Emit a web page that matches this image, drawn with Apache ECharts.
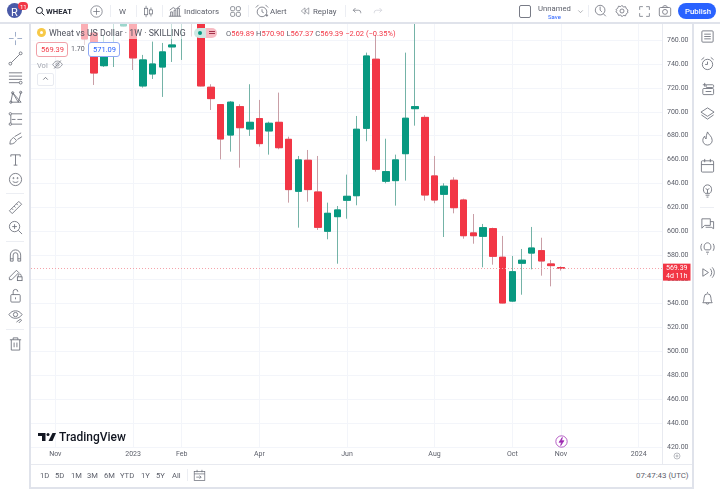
<!DOCTYPE html>
<html>
<head>
<meta charset="utf-8">
<script src="https://cdn.jsdelivr.net/npm/echarts@6/dist/echarts.min.js"></script>
<style>
  html, body { margin: 0; padding: 0; background: #fff; overflow: hidden; }
  #page { position: relative; width: 720px; height: 489px; font-family: Roboto, sans-serif; color: #5d606b; }
  #chart { position: absolute; left: 0; top: 0; width: 720px; height: 489px; }
  .box { position: absolute; }
  .txt { position: absolute; white-space: nowrap; transform: translateY(-50%); }
  .ico { position: absolute; fill: none; stroke: #6a6d78; stroke-width: 0.9; }
</style>
</head>
<body>
<div id="page"><div id="chart"></div></div>
<script>
const UP = '#089981';
const DOWN = '#F23645';
const UP_WICK = '#74b3a7';
const DOWN_WICK = '#c99ea6';

const categories = [
  '2022-10-24', '2022-10-31', '2022-11-07', '2022-11-14', '2022-11-21', '2022-11-28', '2022-12-05', '2022-12-12',
  '2022-12-19', '2022-12-26', '2023-01-02', '2023-01-09', '2023-01-16', '2023-01-23', '2023-01-30', '2023-02-06',
  '2023-02-13', '2023-02-20', '2023-02-27', '2023-03-06', '2023-03-13', '2023-03-20', '2023-03-27', '2023-04-03',
  '2023-04-10', '2023-04-17', '2023-04-24', '2023-05-01', '2023-05-08', '2023-05-15', '2023-05-22', '2023-05-29',
  '2023-06-05', '2023-06-12', '2023-06-19', '2023-06-26', '2023-07-03', '2023-07-10', '2023-07-17', '2023-07-24',
  '2023-07-31', '2023-08-07', '2023-08-14', '2023-08-21', '2023-08-28', '2023-09-04', '2023-09-11', '2023-09-18',
  '2023-09-25', '2023-10-02', '2023-10-09', '2023-10-16', '2023-10-23', '2023-10-30', '2023-11-06', '2023-11-13',
  '2023-11-20', '2023-11-27', '2023-12-04', '2023-12-11', '2023-12-18', '2023-12-25', '2024-01-01', '2024-01-08',
  '2024-01-15'
];
const tickLabels = {
  '2022-11-07': 'Nov', '2023-01-02': '2023', '2023-02-06': 'Feb', '2023-04-03': 'Apr', '2023-06-05': 'Jun',
  '2023-08-07': 'Aug', '2023-10-02': 'Oct', '2023-11-06': 'Nov', '2024-01-01': '2024'
};

// weekly bars; the ones above the visible range are estimates
const opens = [
  null, null, null, null, null, 785, 765.8, 738.5, 776, 771.7,
  790, 721.6, 731.6, 737.4, 754.2, 775, 790, 790, 720.5, 706,
  680.6, 704.3, 685.6, 694.3, 684, 691.2, 677, 633.6, 659.5, 633,
  600.2, 612.4, 626.1, 629.9, 686.2, 743.9, 642, 642.5, 665, 702.6,
  695.3, 646.4, 631.1, 642.8, 626.3, 598.8, 596, 602.4, 578.5, 541.9,
  573.5, 582, 584, 572.9, 569.89, null, null, null, null, null,
  null, null, null, null, null
];
const closes = [
  null, null, null, null, null, 760.8, 732.4, 753.3, 785, 790,
  745, 743.3, 739.9, 750, 755.8, 785, 778, 721.6, 711, 677.3,
  708, 686.7, 691.2, 673.4, 690.4, 670, 635, 659.8, 635, 603.5,
  615.2, 618, 629.4, 685.4, 746.6, 652, 650, 659.8, 694.6, 704.3,
  630.5, 626.3, 637.8, 619.9, 596.5, 596.5, 603.2, 579.3, 540.3, 566.4,
  576, 586.2, 575.4, 571.5, 569.39, null, null, null, null, null,
  null, null, null, null, null
];
const lows = [
  null, null, null, null, null, 755.8, 722.4, 737.4, 737.4, 771.3,
  734.9, 720.2, 727.4, 712.4, 741.6, 743.3, 762.8, 721.2, 701.5, 660.3,
  666.7, 653.3, 679.8, 670.9, 664.2, 668.7, 624.1, 603.2, 624.9, 601.3,
  593.5, 573.1, 610.7, 621.9, 675.4, 650, 640.3, 621.6, 642.5, 688.4,
  625.8, 623.6, 595.4, 615.2, 594, 589.8, 570.1, 572.3, 540, 541.1,
  547.2, 568.4, 563.1, 554.2, 567.37, null, null, null, null, null,
  null, null, null, null, null
];
const highs = [
  null, null, null, null, null, 795, 767.5, 764.2, 795, 795,
  795, 747.5, 758.6, 757.5, 790, 795, 795, 795, 723, 706.5,
  709, 706.3, 723, 709.9, 691.7, 716, 679.2, 663.1, 668.1, 663.1,
  624.1, 621.3, 647.5, 696.5, 749.4, 764.2, 677.5, 664.2, 749.4, 790,
  697.1, 663.1, 640.3, 645.3, 627.4, 614.6, 606.3, 603.2, 596.3, 579.6,
  585.4, 603.8, 594.8, 576.2, 570.9, null, null, null, null, null,
  null, null, null, null, null
];
const lastPrice = 569.39;

const toBar = (i) => opens[i] === null ? ['-', '-', '-', '-'] : [opens[i], closes[i], lows[i], highs[i]];
const wickData = categories.map((c, i) => toBar(i));
// same bars with the wick cut off, so the body keeps its full colour over the paler wick
const bodyData = categories.map((c, i) => {
  if (opens[i] === null) return ['-', '-', '-', '-'];
  return [opens[i], closes[i], Math.min(opens[i], closes[i]), Math.max(opens[i], closes[i])];
});

const chart = echarts.init(document.getElementById('chart'));
chart.setOption({
  animation: false,
  backgroundColor: '#fff',
  grid: { left: 31, right: 57, top: 16, bottom: 42, containLabel: false },
  xAxis: {
    type: 'category',
    data: categories,
    axisLine: { show: false },
    axisTick: { show: false },
    axisLabel: {
      interval: (i, v) => tickLabels[v] !== undefined,
      formatter: (v) => tickLabels[v] || '',
      color: '#5d606b',
      fontSize: 7,
      fontFamily: 'Roboto',
      margin: 4,
    },
    splitLine: {
      show: true,
      alignWithLabel: true,
      interval: (i, v) => tickLabels[v] !== undefined,
      lineStyle: { color: '#f3f5fa', width: 1 },
    },
  },
  yAxis: {
    type: 'value',
    position: 'right',
    min: 420,
    max: 780,
    interval: 20,
    axisLine: { show: false },
    axisTick: { show: false },
    axisLabel: {
      formatter: (v) => v.toFixed(2),
      color: '#5d606b',
      fontSize: 7,
      fontFamily: 'Roboto',
      margin: 4,
    },
    splitLine: { show: true, lineStyle: { color: '#f3f5fa', width: 1 } },
  },
  series: [
    {
      name: 'Wick',
      type: 'candlestick',
      data: wickData,
      barWidth: 7,
      silent: true,
      itemStyle: { color: UP_WICK, color0: DOWN_WICK, borderColor: UP_WICK, borderColor0: DOWN_WICK, borderWidth: 1 },
    },
    {
      name: 'Wheat vs US Dollar',
      type: 'candlestick',
      data: bodyData,
      barWidth: 7,
      silent: true,
      itemStyle: { color: UP, color0: DOWN, borderColor: UP, borderColor0: DOWN, borderWidth: 1 },
      markLine: {
        silent: true,
        symbol: 'none',
        z: 10,
        data: [{
          yAxis: lastPrice,
          lineStyle: { color: '#f5a3aa', type: [1, 2], width: 1 },
        }],
        label: {
          position: 'end',
          formatter: '569.39\n4d 11h',
          color: '#fff',
          backgroundColor: DOWN,
          fontSize: 7,
          fontFamily: 'Roboto',
          lineHeight: 8.5,
          padding: [0, 3, 0, 3],
          distance: 0,
          offset: [0, 4],
        },
      },
    },
  ],
});

// ---- TradingView screen around the chart ----
const page = document.getElementById('page');

function box(x, y, w, h, css) {
  const d = document.createElement('div');
  d.className = 'box';
  d.style.cssText = `left:${x}px;top:${y}px;width:${w}px;height:${h}px;${css}`;
  page.appendChild(d);
  return d;
}
function txt(s, x, y, size, css) {
  const d = document.createElement('div');
  d.className = 'txt';
  d.style.cssText = `left:${x}px;top:${y}px;font-size:${size}px;${css || ''}`;
  d.textContent = s;
  page.appendChild(d);
  return d;
}
function ico(inner, cx, cy, size, css) {
  const s = size || 16;
  const d = document.createElement('div');
  d.innerHTML = `<svg class="ico" viewBox="0 0 16 16" width="${s}" height="${s}" style="left:${cx - s / 2}px;top:${cy - s / 2}px;${css || ''}">${inner}</svg>`;
  page.appendChild(d.firstChild);
}

// panels and separators
box(0, 0, 720, 22, 'background:#fff');
box(0, 22, 720, 2, 'background:#e0e3eb');
box(0, 24, 29, 465, 'background:#fff');
box(29, 24, 2, 465, 'background:#e0e3eb');
box(692, 24, 2, 465, 'background:#e0e3eb');
box(694, 24, 26, 465, 'background:#fff');
box(31, 464, 661, 23, 'background:#fff');
box(31, 464, 661, 1, 'background:#e8eaf0');
box(29, 487, 665, 2, 'background:#e0e3eb');
box(662, 24, 1, 440, 'background:#e8eaf0');

// legend veil over the candles
box(31, 24, 164, 15, 'background:rgba(255,255,255,.6)');
box(31, 39, 90, 17, 'background:rgba(255,255,255,.6)');

// top toolbar
box(7, 3, 15, 15, 'background:#4a5aa8;border-radius:50%');
txt('R', 11, 11.5, 11, 'color:#fff');
box(18, 2, 10, 7.5, 'background:#f23645;border-radius:4px');
txt('11', 20, 5.7, 6, 'color:#fff');
ico('<circle cx="7" cy="7" r="5"/><path d="M11 11l4 4"/>', 40, 11, 10, 'stroke-width:1.5;stroke:#131722');
txt('WHEAT', 46, 11, 7.7, 'font-weight:700;color:#2a2e39');
ico('<circle cx="8" cy="8" r="7"/><path d="M8 4v8M4 8h8"/>', 96, 11, 13);
[110, 136, 162, 248, 345, 588].forEach((x) => box(x, 5, 1, 12, 'background:#eceef3'));
txt('W', 119, 11, 7.9);
ico('<path d="M5 1v3M5 12v3M11 3v3M11 11v3"/><rect x="3" y="4" width="4" height="8"/><rect x="9" y="6" width="4" height="5"/>', 148, 11, 13);
ico('<path d="M1 14h14M3 14V9h2v5M7 14V7h2v7M11 14V5h2v9M2 7l4-3 3 2 5-4"/>', 175, 11, 14);
txt('Indicators', 184, 11, 7.9);
ico('<rect x="2" y="2" width="5" height="5" rx="1.5"/><rect x="9" y="2" width="5" height="5" rx="1.5"/><rect x="2" y="9" width="5" height="5" rx="1.5"/><rect x="9" y="9" width="5" height="5" rx="1.5"/>', 235, 11, 13);
ico('<circle cx="8" cy="9" r="5.5"/><path d="M8 6v3l2 1M1 4l3-3M15 4l-3-3M12 13h3M13.5 11.500v3"/>', 262, 11, 14);
txt('Alert', 270, 11, 7.9);
ico('<path d="M8 3L2 8l6 5zM14 3L8 8l6 5z"/>', 305, 11, 10);
txt('Replay', 313, 11, 7.9);
ico('<path d="M6 4L3 7l3 3M3 7h7a3 3 0 0 1 3 3v1"/>', 357, 11, 12);
ico('<path d="M10 4l3 3-3 3M13 7H6a3 3 0 0 0-3 3v1"/>', 378, 11, 12, 'stroke:#c8cad2');
box(519, 5, 10, 11, 'border:1px solid #787b86;border-radius:2px');
txt('Unnamed', 538, 8, 7.7);
txt('Save', 548, 15.5, 6, 'color:#2962ff');
ico('<path d="M4 6l4 4 4-4"/>', 580, 11, 9);
ico('<circle cx="7" cy="7" r="5.5"/><path d="M7 3v4l2 2M10.500 11l3 3"/>', 601, 11, 14);
ico('<path d="M8 1.500l1.500 2 2.500-.5 1 2.500 2 1.500-1 1 1 1.500-2 1.500-1 2.500-2.500-.5L8 14.500l-1.500-2-2.500.5-1-2.500-2-1.500 1-1.500-1-1 2-1.500 1-2.500 2.500.5z"/><circle cx="8" cy="8" r="2.300"/>', 622, 11, 14);
ico('<path d="M2 6V2h4M10 2h4v4M14 10v4h-4M6 14H2v-4"/>', 644, 11, 13);
ico('<rect x="1.500" y="4" width="13" height="10" rx="1.500"/><circle cx="8" cy="9" r="2.800"/><path d="M5 4l1.500-2h3L11 4"/>', 665, 11, 14);
box(678, 3, 38, 16, 'background:#2962ff;border-radius:8px');
txt('Publish', 685, 11, 7.8, 'color:#fff;font-weight:500');

// legend
box(36.500, 28, 9, 9, 'background:#f7c948;border-radius:50%');
box(39.500, 31, 3, 3, 'background:#fff;border-radius:50%');
txt('Wheat vs US Dollar · 1W · SKILLING', 49, 33, 8.75, 'color:#50535e');
box(194, 27.5, 12, 10, 'background:#cfe8e3;border-radius:5px 0 0 5px');
box(198, 30.5, 4, 4, 'background:#089981;border-radius:50%');
box(206, 27.5, 11, 10, 'background:#f7bcc4;border-radius:0 5px 5px 0');
box(208.500, 31, 6, 1, 'background:#a3324a');
box(208.500, 33, 6, 1, 'background:#a3324a');
const ohlc = document.createElement('div');
ohlc.className = 'txt';
ohlc.style.cssText = 'left:226px;top:33px;font-size:7.5px;color:#f23645';
ohlc.innerHTML = '<span style="color:#5d606b">O</span>569.89 <span style="color:#5d606b">H</span>570.90 <span style="color:#5d606b">L</span>567.37 <span style="color:#5d606b">C</span>569.39 −2.02 (−0.35%)';
page.appendChild(ohlc);
box(36, 42, 30, 13, 'border:1px solid #f0a0a8;border-radius:3px;background:#fff');
txt('569.39', 41, 49, 7.5, 'color:#f23645');
txt('1.70', 71, 49, 7, 'color:#5d606b');
box(88, 42, 30, 13, 'border:1px solid #8fa9f5;border-radius:3px;background:#fff');
txt('571.09', 93, 49, 7.5, 'color:#2962ff');
txt('Vol', 37, 65, 7.5, 'color:#a3a6af');
ico('<path d="M1 8c2-3.500 4.500-5 7-5s5 1.500 7 5c-2 3.500-4.500 5-7 5s-5-1.500-7-5z"/><circle cx="8" cy="8" r="2.300"/><path d="M3 14L13 2"/>', 57, 64.500, 11);
box(37, 72.500, 15, 11, 'border:1px solid #e8eaf0;border-radius:2px;background:#fff');
ico('<path d="M4 10l4-4 4 4"/>', 45, 78.500, 9, 'stroke-width:1.500');

// left tool strip
const leftTools = [
  ['<path d="M8 1v5M8 10v5M1 8h5M10 8h5"/>', 38, 'stroke:#8ea0c0'],
  ['<path d="M3.500 12.500l9-9"/><circle cx="2.500" cy="13.500" r="1.500"/><circle cx="13.500" cy="2.500" r="1.500"/>', 58],
  ['<path d="M1 3h14M1 6.500h14M1 10h14M1 13.500h11"/><circle cx="13.500" cy="13.500" r="1.500"/>', 77],
  ['<path d="M3 13L5 3l6 10 3-11M5 3l9 10M3 13h11"/><circle cx="3" cy="13" r="1.200"/><circle cx="5" cy="3" r="1.200"/><circle cx="13.500" cy="2.500" r="1.200"/>', 97],
  ['<path d="M4 3h11M4 9h4M10 9h5M4 14h11M3 4v9"/><circle cx="2.500" cy="3" r="1.300"/><circle cx="2.500" cy="14" r="1.300"/>', 118],
  ['<path d="M2 14c0-4 2-6 4-7l3 3c-1 2-3 4-7 4zM7 6l7-4M10 9l5-3"/>', 138],
  ['<path d="M3 3h10M8 3v11M3 3v2M13 3v2M6 14h4"/>', 159],
  ['<circle cx="8" cy="8" r="6.500"/><circle cx="5.800" cy="6.500" r=".6"/><circle cx="10.200" cy="6.500" r=".6"/><path d="M5 10c1.500 1.500 4.500 1.500 6 0"/>', 179],
  ['<path d="M1.500 11.500l10-10 3 3-10 10zM4 9l1.500 1.500M6.500 6.500L8 8M9 4l1.500 1.500"/>', 207],
  ['<circle cx="7" cy="7" r="5.500"/><path d="M7 4.500v5M4.500 7h5M11 11l4 4"/>', 227],
  ['<path d="M2.500 14V7.500a5.500 5.500 0 0 1 11 0V14h-3V7.500a2.500 2.500 0 0 0-5 0V14zM2.500 11.500h3M10.500 11.500h3"/>', 255],
  ['<path d="M1.500 11L9 3.500 11.500 6 4 13.500H1.500z"/><rect x="10" y="10.500" width="5" height="4"/><path d="M11 10.500V9a1.500 1.500 0 0 1 3 0v1.500"/>', 274],
  ['<rect x="3" y="7" width="10" height="8" rx="1"/><path d="M5.500 7V4a2.500 2.500 0 0 1 5 0M8 10v2"/>', 295],
  ['<path d="M1 7c2-3 4.500-4 7-4s5 1 7 4c-2 3-4.500 4-7 4s-5-1-7-4z"/><circle cx="8" cy="7" r="2.300"/><path d="M9 15l4-3 1.500 1-3 3"/>', 315],
  ['<path d="M2 4h12M5.500 4V2h5v2M3.500 4v11h9V4M6.500 7v5M9.500 7v5"/>', 343],
];
leftTools.forEach((t) => ico(t[0], 15, t[1], 15, t[2] || ''));
[193, 241, 329].forEach((y) => box(6, y, 18, 1, 'background:#eceef3'));

// right tool strip
const rightTools = [
  ['<rect x="2" y="2" width="12" height="12" rx="1"/><path d="M4.500 5.500h7M4.500 8h7M4.500 10.500h7"/>', 36],
  ['<circle cx="8" cy="9" r="5.500"/><path d="M8 6v3H5.500M1.500 4l3-2.500M14.500 4l-3-2.500"/>', 63],
  ['<path d="M5 2v4M3 4h4"/><rect x="6.500" y="4" width="8" height="3" rx="1"/><rect x="3" y="8" width="11.500" height="6.500" rx="1"/><path d="M6 11.200h6"/>', 88],
  ['<path d="M8 2l7 4.500-7 4.500-7-4.500zM1.500 9.500L8 14l6.500-4.500"/>', 113],
  ['<path d="M8 1c1 3 5 4.500 5 9a5 5 0 0 1-10 0c0-2 1-3.500 2-4.500 0 1.500.5 2.500 1.500 3C6.500 6 7 3 8 1z"/>', 138],
  ['<rect x="1.500" y="3" width="13" height="12" rx="1"/><path d="M1.500 7h13M5 1v3.500M11 1v3.500"/>', 165],
  ['<path d="M5.500 11c-3-2-2.500-9 2.500-9s5.500 7 2.500 9zM6 13h4M7 15h2M8 11V7l-2-1M8 7l2-1"/>', 190],
  ['<path d="M2 3h9v7H5l-3 3zM11 6h3.500v7.500L12 12H6"/>', 223],
  ['<path d="M5.500 10.500C3.500 9 4 3 8 3s4.500 6 2.500 7.500zM6.500 13h3M7.500 15h1M2 4c-1.500 2.500-1.500 5 0 7.500M14 4c1.500 2.500 1.500 5 0 7.500"/>', 247],
  ['<path d="M3 4l6 4-6 4zM11 4c2 2.500 2 5.500 0 8M13 2.500c3 3.500 3 7.500 0 11"/>', 272],
  ['<path d="M3 12.500c1.500-2 1-4 1.500-6a3.500 3.500 0 0 1 7 0c.5 2 0 4 1.500 6zM6.500 12.500a1.500 1.500 0 0 0 3 0M8 2V1"/>', 298],
];
rightTools.forEach((t) => ico(t[0], 707, t[1], 15));
box(700, 207, 14, 1, 'background:#eceef3');

// price axis gear, event marker, logo
ico('<circle cx="8" cy="8" r="6"/><circle cx="8" cy="8" r="2"/>', 677, 456, 8);
ico('<circle cx="8" cy="8" r="7"/><path d="M9 3L5 9h3l-1 4 4-6H8z" fill="#9c27b0"/>', 561, 441, 13, 'stroke:#9c27b0');
const logo = document.createElement('div');
logo.innerHTML = '<svg viewBox="0 0 36 16" width="18" height="8" style="position:absolute;left:37.500px;top:432.500px"><path fill="#131722" d="M15 0H0v6h8v10h7zM29 16h-8l8-16h7z"/><circle fill="#131722" cx="20" cy="3" r="3"/></svg>';
page.appendChild(logo.firstChild);
txt('TradingView', 59, 436.500, 12, 'color:#131722;font-weight:500');

// bottom bar
[['1D', 40], ['5D', 55], ['1M', 71], ['3M', 87], ['6M', 104], ['YTD', 120], ['1Y', 141], ['5Y', 156], ['All', 172]]
  .forEach((r) => txt(r[0], r[1], 475, 7.6));
box(187, 469, 1, 12, 'background:#eceef3');
ico('<rect x="1.500" y="3" width="13" height="11"/><path d="M1.500 6h13M5 1v3M11 1v3M4 10h6M8 8l2 2-2 2"/>', 199, 475, 13);
txt('07:47:43 (UTC)', 636, 475, 7.9);
</script>
</body>
</html>
